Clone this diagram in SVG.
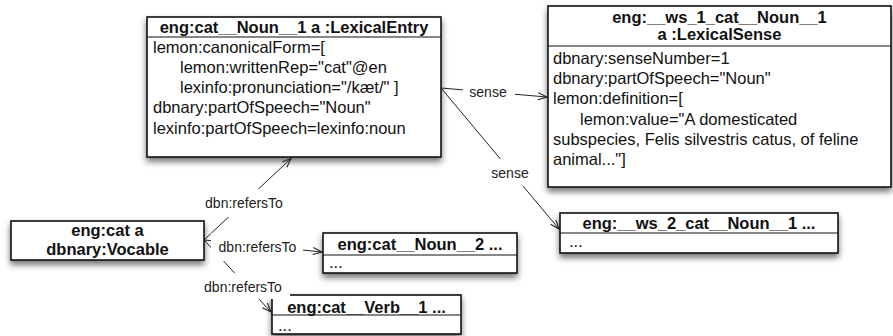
<svg xmlns="http://www.w3.org/2000/svg" width="893" height="336" viewBox="0 0 893 336">
  <defs>
    <filter id="sh" x="-10%" y="-20%" width="120%" height="150%">
      <feDropShadow dx="0" dy="4" stdDeviation="3" flood-color="#000" flood-opacity="0.55"/>
    </filter>
    <marker id="arr" markerUnits="userSpaceOnUse" markerWidth="12" markerHeight="10" refX="10" refY="4" orient="auto">
      <path d="M1,0.5 L10,4 L1,7.5" fill="none" stroke="#222" stroke-width="1.1"/>
    </marker>
  </defs>
  <style>
    text { font-family: "Liberation Sans", Arial, sans-serif; fill: #111; }
    .t { font-size: 16.5px; }
    .h { font-size: 16.5px; font-weight: bold; text-anchor: middle; }
    .lbl { font-size: 14px; text-anchor: middle; fill: #222; }
    .box { fill: #fff; stroke: #111; stroke-width: 1.6; filter: url(#sh); }
    .sep { stroke: #111; stroke-width: 1.2; }
    .edge { fill: none; stroke: #222; stroke-width: 1; marker-end: url(#arr); }
    .lbg { fill: #fff; }
  </style>

  <rect width="893" height="336" fill="#fff"/>

  <!-- lexical entry -->
  <g id="lexical-entry">
    <rect class="box" x="147" y="17" width="294" height="140"/>
    <line class="sep" x1="147" y1="37" x2="441" y2="37"/>
    <text class="h" x="294" y="32.5">eng:cat__Noun__1 a :LexicalEntry</text>
    <text class="t" x="153" y="52.5">lemon:canonicalForm=[</text>
    <text class="t" x="180" y="72.8">lemon:writtenRep="cat"@en</text>
    <text class="t" x="180" y="93">lexinfo:pronunciation="/kæt/" ]</text>
    <text class="t" x="153" y="113.3">dbnary:partOfSpeech="Noun"</text>
    <text class="t" x="153" y="133.5">lexinfo:partOfSpeech=lexinfo:noun</text>
  </g>

  <!-- first sense -->
  <g id="sense-1">
    <rect class="box" x="548" y="6" width="343" height="181"/>
    <line class="sep" x1="548" y1="46" x2="891" y2="46"/>
    <text class="h" x="719.5" y="23">eng:__ws_1_cat__Noun__1</text>
    <text class="h" x="719.5" y="40">a :LexicalSense</text>
    <text class="t" x="553" y="63.5">dbnary:senseNumber=1</text>
    <text class="t" x="553" y="84">dbnary:partOfSpeech="Noun"</text>
    <text class="t" x="553" y="104.3">lemon:definition=[</text>
    <text class="t" x="580" y="124.6">lemon:value="A domesticated</text>
    <text class="t" x="553" y="145">subspecies, Felis silvestris catus, of feline</text>
    <text class="t" x="553" y="165.3">animal..."]</text>
  </g>

  <!-- vocable -->
  <g id="vocable">
    <rect class="box" x="11" y="221" width="193" height="39"/>
    <text class="h" x="107.5" y="236">eng:cat a</text>
    <text class="h" x="107.5" y="255">dbnary:Vocable</text>
  </g>

  <!-- second noun entry -->
  <g id="noun-2">
    <rect class="box" x="323" y="233" width="194" height="40"/>
    <line class="sep" x1="323" y1="255" x2="517" y2="255"/>
    <text class="h" x="420" y="249.5">eng:cat__Noun__2 ...</text>
    <text class="t" x="329" y="267.5">...</text>
  </g>

  <!-- second sense -->
  <g id="sense-2">
    <rect class="box" x="560" y="213" width="278" height="40"/>
    <line class="sep" x1="560" y1="233" x2="838" y2="233"/>
    <text class="h" x="699" y="228.5">eng:__ws_2_cat__Noun__1 ...</text>
    <text class="t" x="569" y="246.5">...</text>
  </g>

  <!-- verb entry -->
  <g id="verb-1">
    <rect class="box" x="272" y="295" width="189" height="39"/>
    <line class="sep" x1="272" y1="315" x2="461" y2="315"/>
    <text class="h" x="366.5" y="312.5">eng:cat__Verb__1 ...</text>
    <text class="t" x="278" y="330.5">...</text>
  </g>

  <!-- connectors -->
  <g id="connectors">
    <line class="edge" x1="204" y1="240" x2="291" y2="158.5"/>
    <line class="edge" x1="204" y1="240" x2="322" y2="252"/>
    <line class="edge" x1="204" y1="240" x2="271" y2="312"/>
    <line class="edge" x1="441" y1="88" x2="547" y2="97"/>
    <line class="edge" x1="441" y1="88" x2="559" y2="229"/>
  </g>

  <!-- connector labels -->
  <g id="labels">
    <rect class="lbg" x="198" y="189" width="92" height="28"/>
    <text class="lbl" x="244" y="208">dbn:refersTo</text>
    <rect class="lbg" x="211" y="233" width="92" height="28"/>
    <text class="lbl" x="257.5" y="252">dbn:refersTo</text>
    <rect class="lbg" x="198" y="273" width="92" height="26"/>
    <text class="lbl" x="243" y="292">dbn:refersTo</text>
    <rect class="lbg" x="463" y="80" width="52" height="24"/>
    <text class="lbl" x="488" y="97">sense</text>
    <rect class="lbg" x="485" y="159" width="50" height="27"/>
    <text class="lbl" x="510" y="178">sense</text>
  </g>
</svg>
